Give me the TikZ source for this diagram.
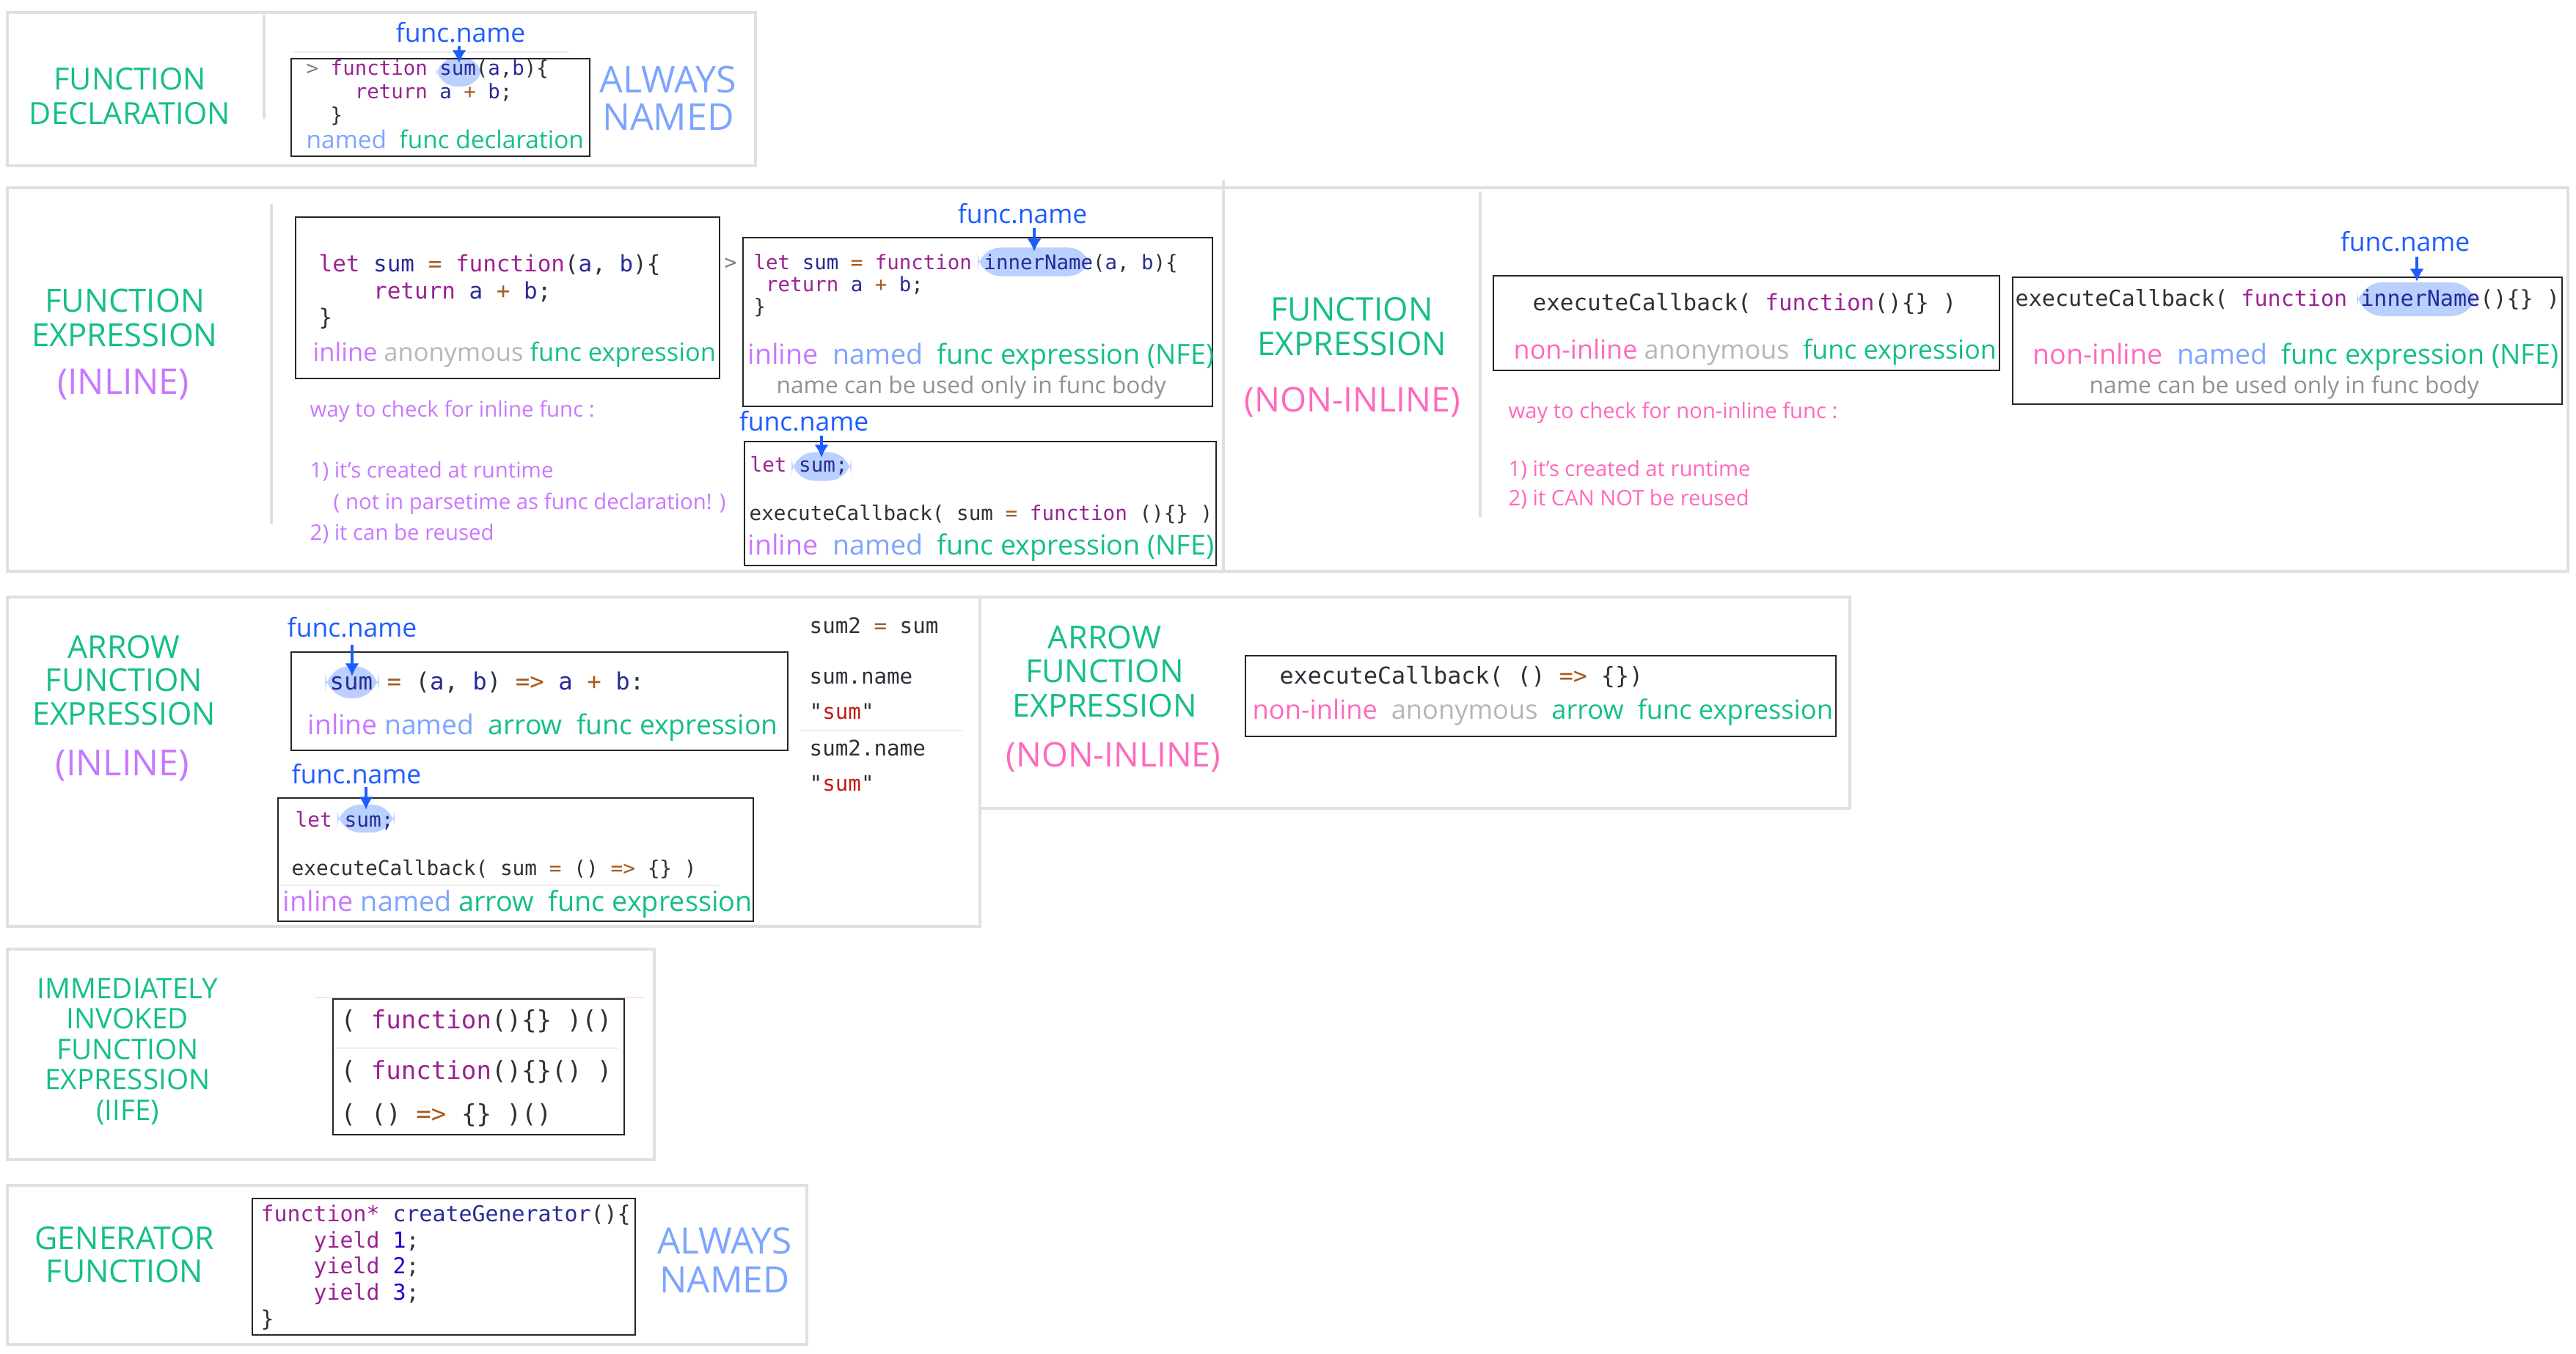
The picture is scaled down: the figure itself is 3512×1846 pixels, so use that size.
\documentclass[tikz,border=0pt]{standalone}
\usepackage{fontspec}
\setmainfont{Open Sans}
\setmonofont{DejaVu Sans Mono}
\usepackage{tikz}
\usetikzlibrary{positioning,arrows.meta,calc,fit}
\usepackage{xcolor}
\definecolor{kind}{RGB}{20,190,138}
\definecolor{fnblue}{RGB}{30,92,255}
\definecolor{nmdblue}{RGB}{125,165,255}
\definecolor{inl}{RGB}{200,120,255}
\definecolor{noninl}{RGB}{255,105,190}
\definecolor{anon}{RGB}{182,182,182}
\definecolor{remark}{RGB}{145,145,145}
\definecolor{panelgray}{RGB}{224,224,224}
\definecolor{hilite}{RGB}{186,208,255}
\definecolor{ckw}{RGB}{155,35,147}
\definecolor{cvar}{RGB}{40,42,150}
\definecolor{cop}{RGB}{165,90,30}
\definecolor{cnum}{RGB}{28,0,207}
\definecolor{cstr}{RGB}{196,26,22}
\definecolor{cplain}{RGB}{45,48,55}
\newcommand\kw[1]{\textcolor{ckw}{#1}}
\newcommand\idf[1]{\textcolor{cvar}{#1}}
\newcommand\opr[1]{\textcolor{cop}{#1}}
\newcommand\nmb[1]{\textcolor{cnum}{#1}}
\newcommand\strg[1]{\textcolor{cstr}{#1}}
\newcommand\fsz[2]{\fontsize{#1}{#2}\selectfont}

\begin{document}
\begin{tikzpicture}[
  x=0.01cm, y=-0.01cm,
  panel/.style={draw=panelgray, line width=1.2pt, inner sep=0pt},
  sep/.style={draw=panelgray, line width=0.9pt},
  codebox/.style={draw=black!85, line width=0.75pt, inner sep=0pt},
  hl/.style={fill=hilite, rounded corners=5pt, inner sep=0pt},
  title/.style={text=kind, align=center, inner sep=0pt, anchor=base},
  code/.style 2 args={font=\ttfamily\fsz{#1}{#2}, text=cplain, inner sep=0pt, anchor=base west, align=left},
  tag/.style={font=\fsz{#1}{#1}, inner sep=0pt, anchor=base west},
  fn/.style={font=\fsz{10.1}{12}, text=fnblue, inner sep=0pt, anchor=base},
  arr/.style={-{Latex[length=5pt,width=5.5pt]}, draw=fnblue, line width=1pt},
  faint/.style={draw=black!7, line width=0.6pt}
]
\useasboundingbox (0,0) rectangle (3512,1846);

\node[panel, fit={(10,17) (1030,226)}] (p1) {};
\node[panel, fit={(10,256) (3501,779)}] (p2) {};
\node[panel, fit={(10,814) (1336,1263)}] (p3) {};
\node[panel, fit={(1336,814) (2522,1102)}] (p4) {};
\node[panel, fit={(10,1294) (892,1581)}] (p5) {};
\node[panel, fit={(10,1616) (1100,1833)}] (p6) {};
\draw[sep] (360,20) -- (360,162);
\draw[sep] (370,278) -- (370,714);
\draw[panel] (1668,246) -- (1668,779);
\draw[sep] (2018,261) -- (2018,705);
\draw[faint] (400,71) -- (775,71);
\draw[faint] (1092,996) -- (1312,996);
\draw[faint] (379,1207) -- (981,1207);
\draw[faint, draw=red!12] (429,1360) -- (879,1360);
\draw[faint] (454,1429) -- (843,1429);

\node[hl, minimum width=0.62cm, minimum height=0.40cm, rounded corners=8pt] (hl1) at (626,98) {};
\node[hl, minimum width=1.54cm, minimum height=0.39cm, rounded corners=9pt] (hl2) at (1410,357) {};
\node[hl, minimum width=0.81cm, minimum height=0.39cm, rounded corners=9pt] (hl3) at (1120,636) {};
\node[hl, minimum width=1.63cm, minimum height=0.46cm, rounded corners=10pt] (hl5) at (3295,408) {};
\node[hl, minimum width=0.73cm, minimum height=0.44cm, rounded corners=10pt] (hl6) at (480,930) {};
\node[hl, minimum width=0.78cm, minimum height=0.38cm, rounded corners=9pt] (hl7) at (499,1116) {};

\node[codebox, fit={(397,80) (804,213)}] (bx0) {};
\node[codebox, fit={(403,296) (981,516)}] (bx1) {};
\node[codebox, fit={(1013,324) (1653,554)}] (bx2) {};
\node[codebox, fit={(1015,602) (1658,771)}] (bx3) {};
\node[codebox, fit={(2036,376) (2726,505)}] (bx4) {};
\node[codebox, fit={(2744,378) (3493,551)}] (bx5) {};
\node[codebox, fit={(397,889) (1074,1023)}] (bx6) {};
\node[codebox, fit={(379,1088) (1027,1256)}] (bx7) {};
\node[codebox, fit={(1698,894) (2503,1004)}] (bx8) {};
\node[codebox, fit={(454,1362) (851,1547)}] (bx9) {};
\node[codebox, fit={(344,1634) (866,1820)}] (bx10) {};

\node[title, font=\fsz{11.8}{13.4}] (decl) at (177,170) {FUNCTION\\DECLARATION};
\node[title, font=\fsz{14.3}{14.5}, text=nmdblue] (always1) at (911,178) {ALWAYS\\NAMED};
\node[title, font=\fsz{12.4}{13.4}] (expr1) at (170,473) {FUNCTION\\EXPRESSION};
\node[title, font=\fsz{13.7}{14}, text=inl] (expr1i) at (168,538) {(INLINE)};
\node[title, font=\fsz{12.6}{13.4}] (expr2) at (1843,485) {FUNCTION\\EXPRESSION};
\node[title, font=\fsz{13.2}{14}, text=noninl] (expr2n) at (1844,562) {(NON-INLINE)};
\node[title, font=\fsz{12.2}{12.9}] (arrow1) at (169,988) {ARROW\\FUNCTION\\EXPRESSION};
\node[title, font=\fsz{13.9}{14}, text=inl] (arrow1i) at (167,1057) {(INLINE)};
\node[title, font=\fsz{12.3}{13.1}] (arrow2) at (1506,977) {ARROW\\FUNCTION\\EXPRESSION};
\node[title, font=\fsz{13.1}{14}, text=noninl] (arrow2n) at (1518,1045) {(NON-INLINE)};
\node[title, font=\fsz{11}{11.8}] (iife) at (174,1527) {IMMEDIATELY\\INVOKED\\FUNCTION\\EXPRESSION\\(IIFE)};
\node[title, font=\fsz{12.2}{12.8}] (gen) at (170,1748) {GENERATOR\\FUNCTION};
\node[title, font=\fsz{14.1}{14.8}, text=nmdblue] (always2) at (988,1762) {ALWAYS\\NAMED};

\node[code={7.8}{9.1}] (c0) at (417,167) {\textcolor{gray}{>}~\kw{function}~\idf{sum}(\idf{a},\idf{b})\{\\~~~~\kw{return}~\idf{a}~\opr{+}~\idf{b};\\~~\}};
\node[code={8.8}{10.4}] (c1) at (434,444) {\kw{let}~\idf{sum}~\opr{=}~\kw{function}(\idf{a},~\idf{b})\{\\~~~~\kw{return}~\idf{a}~\opr{+}~\idf{b};\\\}};
\node[code={8}{8}, text=gray] (chev) at (987,368) {>};
\node[code={7.8}{8.6}] (c2) at (1027,428) {\kw{let}~\idf{sum}~\opr{=}~\kw{function}~\idf{innerName}(\idf{a},~\idf{b})\{\\~\kw{return}~\idf{a}~\opr{+}~\idf{b};\\\}};
\node[code={7.85}{9}] (c3a) at (1022,643) {\kw{let}~\idf{sum;}};
\node[code={7.85}{9}] (c3b) at (1021,709) {executeCallback(~sum~\opr{=}~\kw{function}~()\{\}~)};
\node[code={8.8}{10}] (c4) at (2089,424) {executeCallback(~\kw{function}()\{\}~)};
\node[code={8.55}{10}] (c5) at (2747,418) {executeCallback(~\kw{function}~\idf{innerName}()\{\}~)};
\node[code={9.2}{10}] (c6) at (449,940) {\idf{sum}~\opr{=}~(\idf{a},~\idf{b})~\opr{=>}~\idf{a}~\opr{+}~\idf{b}:};
\node[code={8.3}{9}] (s1) at (1103,863) {sum2~\opr{=}~sum};
\node[code={8.3}{9}] (s2) at (1103,932) {sum.name};
\node[code={8.3}{9}] (s3) at (1103,980) {"\strg{sum}"};
\node[code={8.3}{9}] (s4) at (1103,1030) {sum2.name};
\node[code={8.3}{9}] (s5) at (1103,1078) {"\strg{sum}"};
\node[code={7.9}{9}] (c7a) at (402,1127) {\kw{let}~\idf{sum;}};
\node[code={7.9}{9}] (c7b) at (397,1193) {executeCallback(~sum~\opr{=}~()~\opr{=>}~\{\}~)};
\node[code={9}{10}] (c8) at (1744,932) {executeCallback(~()~\opr{=>}~\{\})};
\node[code={9.7}{10}] (c9a) at (464,1402) {(~\kw{function}()\{\}~)()};
\node[code={9.7}{10}] (c9b) at (464,1471) {(~\kw{function}()\{\}()~)};
\node[code={9.7}{10}] (c9c) at (464,1530) {(~()~\opr{=>}~\{\}~)()};
\node[code={8.5}{10.1}] (c10) at (355,1808) {\kw{function*}~\idf{createGenerator}()\{\\~~~~\kw{yield}~\nmb{1};\\~~~~\kw{yield}~\nmb{2};\\~~~~\kw{yield}~\nmb{3};\\\}};

\node[tag=9.5] (t0) at (417,203) {\textcolor{nmdblue}{named}\ \ \textcolor{kind}{func declaration}};
\node[tag=9.8] (t1) at (426,493) {\textcolor{inl}{inline} \textcolor{anon}{anonymous} \textcolor{kind}{func expression}};
\node[tag=10.7] (t2) at (1019,497) {\textcolor{inl}{inline}\ \ \textcolor{nmdblue}{named}\ \ \textcolor{kind}{func expression (NFE)}};
\node[tag=9, text=remark] (r2) at (1058,537) {name can be used only in func body};
\node[tag=10.7] (t3) at (1019,757) {\textcolor{inl}{inline}\ \ \textcolor{nmdblue}{named}\ \ \textcolor{kind}{func expression (NFE)}};
\node[tag=10.2] (t4) at (2063,490) {\textcolor{noninl}{non-inline} \textcolor{anon}{anonymous}\ \ \textcolor{kind}{func expression}};
\node[tag=10.7] (t5) at (2771,497) {\textcolor{noninl}{non-inline}\ \ \textcolor{nmdblue}{named}\ \ \textcolor{kind}{func expression (NFE)}};
\node[tag=9, text=remark] (r5) at (2848,537) {name can be used only in func body};
\node[tag=10.6] (t6) at (419,1001) {\textcolor{inl}{inline} \textcolor{nmdblue}{named}\ \ \textcolor{kind}{arrow}\ \ \textcolor{kind}{func expression}};
\node[tag=10.75] (t7) at (385,1242) {\textcolor{inl}{inline} \textcolor{nmdblue}{named} \textcolor{kind}{arrow}\ \ \textcolor{kind}{func expression}};
\node[tag=10.3] (t8) at (1707,980) {\textcolor{noninl}{non-inline}\ \ \textcolor{anon}{anonymous}\ \ \textcolor{kind}{arrow}\ \ \textcolor{kind}{func expression}};

\node[tag=8.35, text=inl] (w1) at (422,569) {way to check for inline func :};
\node[tag=8.35, text=inl] (w2) at (422,652) {1) it's created at runtime};
\node[tag=8.35, text=inl] (w3) at (454,695) {( not in parsetime as func declaration! )};
\node[tag=8.35, text=inl] (w4) at (422,737) {2) it can be reused};
\node[tag=8.3, text=noninl] (v1) at (2056,571) {way to check for non-inline func :};
\node[tag=8.3, text=noninl] (v2) at (2056,650) {1) it's created at runtime};
\node[tag=8.3, text=noninl] (v3) at (2056,690) {2) it CAN NOT be reused};

\node[fn] (fn1) at (628,58) {func.name};
\node[fn] (fn2) at (1394,305) {func.name};
\node[fn] (fn3) at (1096,588) {func.name};
\node[fn] (fn5) at (3279,343) {func.name};
\node[fn] (fn6) at (480,868) {func.name};
\node[fn] (fn7) at (486,1068) {func.name};
\draw[arr] ($(hl1 |- fn1.south)+(0,4)$) -- ($(hl1.center)+(0,-12)$);
\draw[arr] ($(hl2 |- fn2.south)+(0,5)$) -- ($(hl2.center)+(0,-14)$);
\draw[arr] ($(hl3 |- fn3.south)+(0,5)$) -- ($(hl3.center)+(0,-12)$);
\draw[arr] ($(hl5 |- fn5.south)+(0,6)$) -- ($(hl5.center)+(0,-24)$);
\draw[arr] ($(hl6 |- fn6.south)+(0,10)$) -- ($(hl6.center)+(0,-8)$);
\draw[arr] ($(hl7 |- fn7.south)+(0,4)$) -- ($(hl7.center)+(0,-12)$);
\end{tikzpicture}
\end{document}
